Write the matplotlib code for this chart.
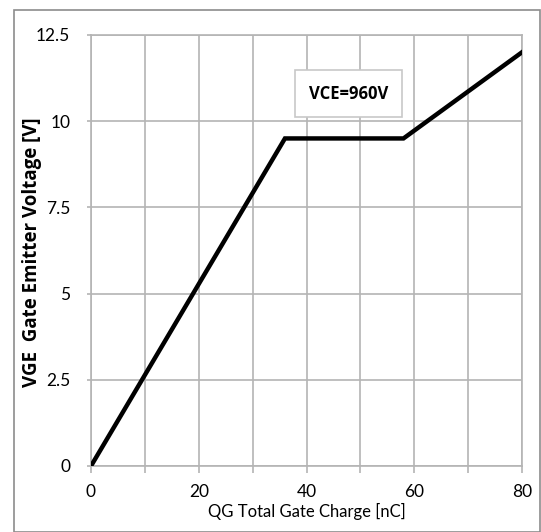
import matplotlib
matplotlib.use("Agg")
import matplotlib.pyplot as plt
from matplotlib.patches import Rectangle

qg = [0, 36, 58, 80]
vge = [0, 9.5, 9.5, 12.0]
xticks = [0, 20, 40, 60, 80]
yticks = [0, 2.5, 5, 7.5, 10, 12.5]
ytick_labels = ["0", "2.5", "5", "7.5", "10", "12.5"]
label_text = "VCE=960V"

plt.rcParams['font.family'] = ['Lato', 'DejaVu Sans']
BOLD = ['Open Sans', 'DejaVu Sans']

W, H = 541, 532
fig = plt.figure(figsize=(W / 100, H / 100), dpi=100)
ax = fig.add_axes([91 / W, 1 - 466 / H, (522 - 91) / W, (466 - 35) / H])

# outer frame
fig.patches.append(Rectangle((14 / W, 0.0), (W - 15) / W, 1 - 10 / H,
                             transform=fig.transFigure, fill=False,
                             edgecolor='#8c8c8c', linewidth=1.2))

ax.plot(qg, vge, color='black', linewidth=3.2, solid_joinstyle='miter', zorder=3)

ax.set_xlim(0, 80)
ax.set_ylim(0, 12.5)
ax.set_xticks(xticks)
ax.set_xticks(range(0, 81, 10), minor=True)
ax.set_yticks(yticks)
ax.set_yticklabels(ytick_labels)
ax.grid(True, which='both', axis='x', color='#b4b4b4', linewidth=1.2)
ax.grid(True, which='major', axis='y', color='#b4b4b4', linewidth=1.2)
ax.tick_params(axis='x', which='both', length=5, color='#b4b4b4', width=1.2, labelsize=12.5, pad=8)
ax.tick_params(axis='y', length=3, color='#b4b4b4', width=1.2, labelsize=12.5, pad=12)
for s in ax.spines.values():
    s.set_color('#b4b4b4')
    s.set_linewidth(1.2)

ax.set_xlabel("QG Total Gate Charge [nC]", fontsize=12, labelpad=2)
ax.set_ylabel("VGE  Gate Emitter Voltage [V]", fontsize=13.5, fontweight='bold', family=BOLD)
ax.yaxis.set_label_coords((42 - 91) / (522 - 91), 0.495)

ax.text(47.8, 10.8, label_text, fontsize=12, fontweight='bold', ha='center', va='center',
        family=BOLD,
        bbox=dict(boxstyle='square,pad=0.85', facecolor='white', edgecolor='#c8c8c8', linewidth=1.2),
        zorder=4)

fig.savefig("out.png", dpi=100)
